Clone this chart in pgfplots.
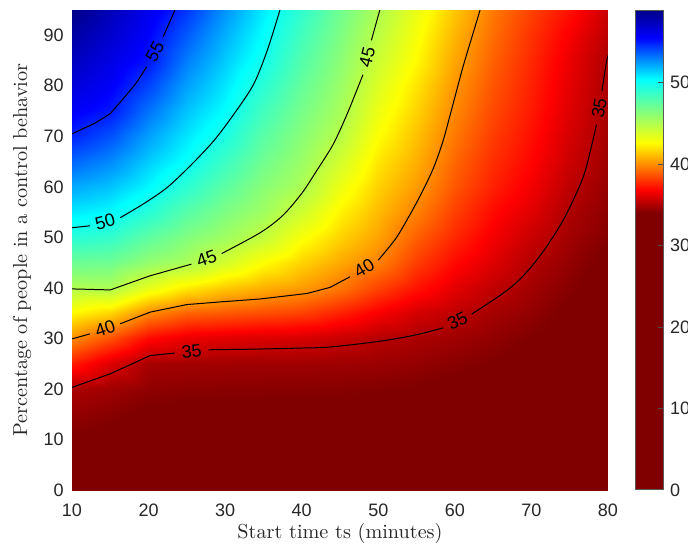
\documentclass[border=0pt]{standalone}
\usepackage{fontspec}
\newfontfamily\arial{Liberation Sans}
\usepackage{pgfplots}
\pgfplotsset{compat=1.18}
\pgfplotsset{/pgf/number format/assume math mode=true}
\pgfplotsset{
 colormap={reljet}{rgb255(0pt)=(128,0,0) rgb255(340pt)=(128,0,0) rgb255(368pt)=(255,0,0) rgb255(397pt)=(255,128,0) rgb255(426pt)=(255,255,0) rgb255(465pt)=(128,255,128) rgb255(504pt)=(0,255,255) rgb255(530pt)=(0,128,255) rgb255(555pt)=(0,0,255) rgb255(589pt)=(0,0,135)},
 cline/.style={black, line width=0.5pt, no markers},
 scline/.style={black, line width=0.5pt, no markers, smooth, tension=0.5},
 gap/.style={draw=none, no markers},
}
\tikzset{clab/.style={font=\arial\fontsize{9}{10}\selectfont, inner sep=0pt, text=black}}
\begin{document}
\begin{tikzpicture}
\begin{axis}[
  scale only axis, width=268pt, height=240pt,
  xmin=10, xmax=80, ymin=0, ymax=95,
  xtick={10,20,...,80}, ytick={0,10,...,90},
  axis line style={draw=none},
  tick style={draw=none},
  colormap name=reljet,
  point meta min=0, point meta max=58.9,
  tick label style={font=\arial\fontsize{9}{11}\selectfont, text=black!85},
  xticklabel style={yshift=-3.4pt},
  yticklabel style={xshift=-0.6pt},
  xlabel={Start time ts (minutes)},
  ylabel={Percentage of people in a control behavior},
  every axis x label/.style={at={(axis description cs:0.5,-0.0896)}, anchor=center, font=\fontsize{10.1}{12}\selectfont, text=black!85},
  every axis y label/.style={at={(axis description cs:-0.0933,0.5)}, rotate=90, anchor=center, font=\fontsize{10.1}{12}\selectfont, text=black!85},
  colorbar,
  colorbar style={
    width=14pt,
    at={(parent axis.north east)}, anchor=north west, xshift=4.97pt,
    ytick={0,10,20,30,40,50},
    axis line style={draw=black!65, line width=0.5pt},
    tick style={draw=black!70, line width=0.5pt},
    major tick length=2.5pt,
    ytick pos=right,
    yticklabel style={font=\arial\fontsize{9}{11}\selectfont, text=black!85},
  },
]
\addplot[surf, shader=interp, mesh/rows=20, mesh/cols=15, point meta=explicit] coordinates {
(10,0) [32.96] (15,0) [32.70] (20,0) [32.34] (25,0) [32.25] (30,0) [32.22] (35,0) [32.20] (40,0) [32.19] (45,0) [32.15] (50,0) [32.07] (55,0) [31.94] (60,0) [31.70] (65,0) [31.45] (70,0) [31.10] (75,0) [31.10] (80,0) [30.30]
(10,5) [33.46] (15,5) [33.20] (20,5) [32.84] (25,5) [32.75] (30,5) [32.72] (35,5) [32.70] (40,5) [32.69] (45,5) [32.65] (50,5) [32.57] (55,5) [32.44] (60,5) [32.20] (65,5) [31.95] (70,5) [31.60] (75,5) [31.50] (80,5) [30.70]
(10,10) [33.96] (15,10) [33.70] (20,10) [33.34] (25,10) [33.25] (30,10) [33.22] (35,10) [33.20] (40,10) [33.19] (45,10) [33.15] (50,10) [33.07] (55,10) [32.94] (60,10) [32.70] (65,10) [32.45] (70,10) [32.10] (75,10) [31.90] (80,10) [31.10]
(10,15) [34.46] (15,15) [34.20] (20,15) [33.84] (25,15) [33.75] (30,15) [33.72] (35,15) [33.70] (40,15) [33.69] (45,15) [33.65] (50,15) [33.57] (55,15) [33.44] (60,15) [33.20] (65,15) [32.95] (70,15) [32.60] (75,15) [32.30] (80,15) [31.50]
(10,20) [34.96] (15,20) [34.70] (20,20) [34.34] (25,20) [34.25] (30,20) [34.22] (35,20) [34.20] (40,20) [34.19] (45,20) [34.15] (50,20) [34.07] (55,20) [33.94] (60,20) [33.70] (65,20) [33.45] (70,20) [33.10] (75,20) [32.70] (80,20) [31.90]
(10,25) [37.40] (15,25) [36.04] (20,25) [34.84] (25,25) [34.75] (30,25) [34.72] (35,25) [34.70] (40,25) [34.69] (45,25) [34.65] (50,25) [34.57] (55,25) [34.44] (60,25) [34.20] (65,25) [33.94] (70,25) [33.60] (75,25) [33.10] (80,25) [32.30]
(10,30) [40.00] (15,30) [38.65] (20,30) [36.98] (25,30) [36.34] (30,30) [36.16] (35,30) [36.01] (40,30) [35.90] (45,30) [35.59] (50,30) [35.21] (55,30) [34.94] (60,30) [34.70] (65,30) [34.39] (70,30) [34.00] (75,30) [33.50] (80,30) [32.70]
(10,35) [42.50] (15,35) [41.69] (20,35) [39.88] (25,35) [39.03] (30,35) [38.79] (35,35) [38.54] (40,35) [38.25] (45,35) [37.54] (50,35) [36.67] (55,35) [35.83] (60,35) [35.35] (65,35) [34.80] (70,35) [34.40] (75,35) [33.80] (80,35) [33.07]
(10,40) [45.00] (15,40) [45.11] (20,40) [43.33] (25,40) [42.13] (30,40) [41.36] (35,40) [40.77] (40,40) [40.32] (45,40) [39.49] (50,40) [38.30] (55,40) [37.20] (60,40) [36.21] (65,40) [35.40] (70,40) [34.74] (75,40) [34.15] (80,40) [33.40]
(10,45) [47.08] (15,45) [46.99] (20,45) [45.87] (25,45) [45.18] (30,45) [43.89] (35,45) [42.61] (40,45) [41.57] (45,45) [40.62] (50,45) [39.70] (55,45) [38.15] (60,45) [36.97] (65,45) [36.06] (70,45) [35.10] (75,45) [34.42] (80,45) [33.76]
(10,50) [49.17] (15,50) [48.87] (20,50) [47.53] (25,50) [46.46] (30,50) [45.56] (35,50) [44.45] (40,50) [42.81] (45,50) [41.60] (50,50) [40.50] (55,50) [38.95] (60,50) [37.66] (65,50) [36.58] (70,50) [35.61] (75,50) [34.72] (80,50) [34.10]
(10,55) [50.81] (15,55) [50.47] (20,55) [49.20] (25,55) [47.74] (30,55) [46.57] (35,55) [45.51] (40,55) [44.05] (45,55) [42.35] (50,55) [41.05] (55,55) [39.70] (60,55) [38.22] (65,55) [37.00] (70,55) [36.13] (75,55) [34.97] (80,55) [34.29]
(10,60) [52.16] (15,60) [51.63] (20,60) [50.48] (25,60) [49.03] (30,60) [47.57] (35,60) [46.23] (40,60) [45.13] (45,60) [43.15] (50,60) [41.55] (55,60) [40.30] (60,60) [38.72] (65,60) [37.50] (70,60) [36.55] (75,60) [35.31] (80,60) [34.48]
(10,65) [53.51] (15,65) [52.79] (20,65) [51.40] (25,65) [50.17] (30,65) [48.57] (35,65) [46.96] (40,65) [45.67] (45,65) [43.95] (50,65) [42.05] (55,65) [40.75] (60,65) [39.10] (65,65) [37.82] (70,65) [36.86] (75,65) [35.64] (80,65) [34.64]
(10,70) [54.86] (15,70) [53.95] (20,70) [52.32] (25,70) [50.88] (30,70) [49.58] (35,70) [47.68] (40,70) [46.21] (45,70) [44.78] (50,70) [42.65] (55,70) [41.17] (60,70) [39.50] (65,70) [38.15] (70,70) [37.12] (75,70) [35.86] (80,70) [34.76]
(10,75) [55.72] (15,75) [55.06] (20,75) [53.25] (25,75) [51.60] (30,75) [50.33] (35,75) [48.41] (40,75) [46.75] (45,75) [45.31] (50,75) [43.15] (55,75) [41.57] (60,75) [39.85] (65,75) [38.44] (70,75) [37.36] (75,75) [36.07] (80,75) [34.87]
(10,80) [56.52] (15,80) [55.67] (20,80) [54.17] (25,80) [52.31] (30,80) [50.90] (35,80) [49.13] (40,80) [47.29] (45,80) [45.73] (50,80) [43.65] (55,80) [41.97] (60,80) [40.18] (65,80) [38.70] (70,80) [37.52] (75,80) [36.20] (80,80) [34.93]
(10,85) [57.31] (15,85) [56.28] (20,85) [55.05] (25,85) [53.02] (30,85) [51.46] (35,85) [49.86] (40,85) [47.83] (45,85) [46.16] (50,85) [44.15] (55,85) [42.47] (60,85) [40.54] (65,85) [38.97] (70,85) [37.70] (75,85) [36.36] (80,85) [35.00]
(10,90) [58.10] (15,90) [56.89] (20,90) [55.51] (25,90) [53.74] (30,90) [52.03] (35,90) [50.36] (40,90) [48.37] (45,90) [46.58] (50,90) [44.65] (55,90) [42.81] (60,90) [40.90] (65,90) [39.26] (70,90) [37.95] (75,90) [36.65] (80,90) [35.30]
(10,95) [58.90] (15,95) [57.50] (20,95) [56.00] (25,95) [54.45] (30,95) [52.60] (35,95) [50.80] (40,95) [48.90] (45,95) [47.00] (50,95) [45.10] (55,95) [43.20] (60,95) [41.30] (65,95) [39.55] (70,95) [38.30] (75,95) [37.15] (80,95) [35.60]
};
% contour 55
\addplot[cline] coordinates {(10,70.5) (13,72.6) (15,74.5)};
\addplot[scline] coordinates {(15,74.5) (18.2,80.2) (19.75,83.8)};
\addplot[gap] coordinates {(19.75,83.8) (21.9,89.7)} node[clab, pos=0.5, sloped] {55};
\addplot[cline] coordinates {(21.9,89.7) (23.45,95)};
% contour 50
\addplot[cline] coordinates {(10,51.9) (12.35,52.3)};
\addplot[gap] coordinates {(12.35,52.3) (16.3,53.9)} node[clab, pos=0.5, sloped] {50};
\addplot[scline] coordinates {(16.3,53.9) (19.3,56.6) (22.37,59.8) (25.4,64.1) (28.45,69) (31.1,74.3) (33.68,80.2) (35.5,87) (37.16,95)};
% contour 45
\addplot[cline] coordinates {(10,39.8) (15,39.6) (20.2,42.4) (25.6,44.7)};
\addplot[gap] coordinates {(25.6,44.7) (29.55,46.8)} node[clab, pos=0.5, sloped] {45};
\addplot[scline] coordinates {(29.55,46.8) (34.55,50.9) (37.5,54.3) (40,58.7) (42,63.3) (44.1,68.4) (45.9,74.3) (48,82.2)};
\addplot[gap] coordinates {(48,82.2) (49.1,89)} node[clab, pos=0.5, sloped] {45};
\addplot[cline] coordinates {(49.1,89) (50.2,95)};
% contour 40
\addplot[cline] coordinates {(10,29.9) (12.35,30.9)};
\addplot[gap] coordinates {(12.35,30.9) (16.3,32.9)} node[clab, pos=0.5, sloped] {40};
\addplot[cline] coordinates {(16.3,32.9) (20.2,35.2) (25,36.7) (30,37.3) (34.55,37.8) (40.7,38.9) (43.7,40.1) (46.3,42.2)};
\addplot[gap] coordinates {(46.3,42.2) (50,45.5)} node[clab, pos=0.5, sloped] {40};
\addplot[scline] coordinates {(50,45.5) (52.3,49.8) (54.1,54.4) (55.7,58.9) (57.2,63.7) (58.4,68.8) (59.4,74.3) (61,83.4) (62.2,89.5) (63.3,95)};
% contour 35
\addplot[cline] coordinates {(10,20.3) (15,23) (20.2,26.6) (23.45,27.1)};
\addplot[gap] coordinates {(23.45,27.1) (27.8,27.75)} node[clab, pos=0.5, sloped] {35};
\addplot[scline] coordinates {(27.8,27.75) (34.55,27.9) (40,28.1) (43.7,28.3) (50,29.4) (54.6,30.6) (58.5,32.1)};
\addplot[gap] coordinates {(58.5,32.1) (62.2,34.8)} node[clab, pos=0.5, sloped] {35};
\addplot[scline] coordinates {(62.2,34.8) (65.9,38.5) (68,41) (70,44.2) (72,48.2) (74,53) (75.5,57.5) (77,63) (78.5,72.3)};
\addplot[gap] coordinates {(78.5,72.3) (79.2,78.9)} node[clab, pos=0.5, sloped] {35};
\addplot[cline] coordinates {(79.2,78.9) (79.8,84.8) (80,86)};
\coordinate (sw) at (rel axis cs:0,0);
\end{axis}
\pgfresetboundingbox
\path[use as bounding box] ([shift={(-36pt,-27.5pt)}]sw) rectangle ++(344pt,272.5pt);
\end{tikzpicture}
\end{document}
